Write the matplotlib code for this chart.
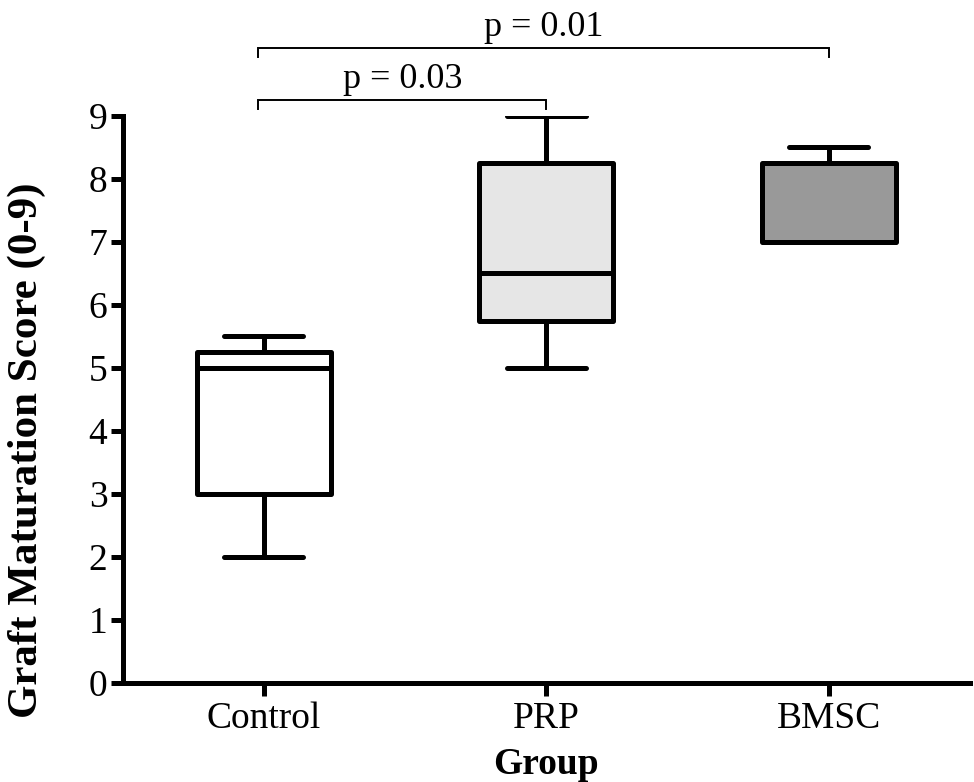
import matplotlib.pyplot as plt
import numpy as np

plt.rcParams['font.family'] = ['Liberation Serif', 'DejaVu Serif']

# box statistics
groups = ["Control", "PRP", "BMSC"]
whisk_lo = [2.0, 5.0, 7.0]
q1 = [3.0, 5.75, 7.0]
med = [5.0, 6.5, 7.0]
q3 = [5.25, 8.25, 8.25]
whisk_hi = [5.5, 9.0, 8.5]
fills = ["#ffffff", "#e6e6e6", "#999999"]

# significance brackets: (group a, group b, label)
pairs = [(1, 2, "p = 0.03"), (1, 3, "p = 0.01")]
pair_y = [9.25, 10.08]

stats = []
for i, g in enumerate(groups):
    stats.append({'label': g, 'whislo': whisk_lo[i], 'q1': q1[i], 'med': med[i],
                  'q3': q3[i], 'whishi': whisk_hi[i], 'fliers': []})

fig = plt.figure(figsize=(9.74, 7.82), dpi=100)
ax = fig.add_axes([0.126, 0.1266, 0.87, 0.7251])

lw = 3.6
bp = ax.bxp(stats, positions=[1, 2, 3], widths=0.475, capwidths=0.28,
            showfliers=False, patch_artist=True,
            boxprops=dict(linewidth=lw, edgecolor='black'),
            medianprops=dict(linewidth=lw, color='black', solid_capstyle='butt'),
            whiskerprops=dict(linewidth=lw, color='black'),
            capprops=dict(linewidth=lw, color='black', solid_capstyle='round'))
for patch, c in zip(bp['boxes'], fills):
    patch.set_facecolor(c)
    patch.set_joinstyle('round')

ax.set_xlim(0.5, 3.5)
ax.set_ylim(0, 9)
ax.set_yticks(range(0, 10))
ax.spines['top'].set_visible(False)
ax.spines['right'].set_visible(False)
ax.spines['left'].set_linewidth(lw)
ax.spines['bottom'].set_linewidth(lw)
ax.tick_params(axis='both', direction='out', length=9, width=lw, labelsize=27, pad=2)
ax.tick_params(axis='x', pad=4)
ax.set_xticklabels(groups)

ax.set_xlabel("Group", fontsize=27, fontweight='bold')
ax.xaxis.set_label_coords(0.5, -0.113)
ax.set_ylabel("Graft Maturation Score (0-9)", fontsize=31, fontweight='bold')
ax.yaxis.set_label_coords(-0.091, 0.41)

drop = 0.14
for (a, b, txt), y in zip(pairs, pair_y):
    xa = a - 0.02
    ax.plot([xa, xa, b, b], [y - drop, y, y, y - drop], color='black', lw=1.4,
            clip_on=False, solid_joinstyle='miter')
    ax.text((xa + b) / 2, y + 0.06, txt, ha='center', va='bottom', fontsize=26)

fig.savefig("out.png", dpi=100)
